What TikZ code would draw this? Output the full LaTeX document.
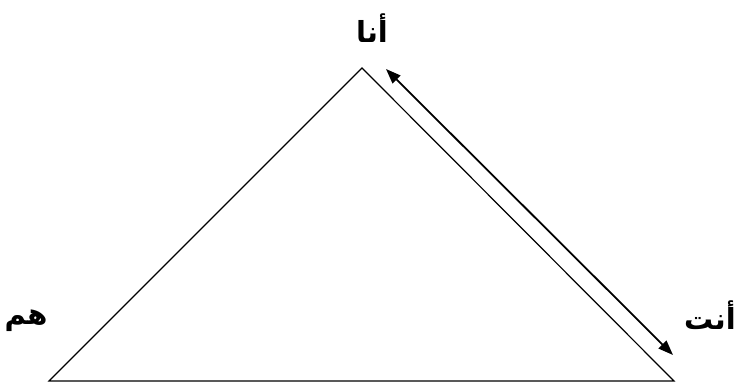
\documentclass[tikz,border=0pt]{standalone}
\usepackage{fontspec}
\usepackage{tikz}
\usetikzlibrary{arrows.meta}
\TeXXeTstate=1
\newfontfamily\arabicfont[Script=Arabic]{DejaVu Sans}

\begin{document}
\begin{tikzpicture}[
   x=1pt, y=-1pt,
   side/.style = {line width=1.2pt, line join=miter},
   arr/.style  = {{Triangle[length=15pt,width=11pt]}-{Triangle[length=15pt,width=11pt]}, line width=1.8pt},
   lbl/.style  = {font=\arabicfont\bfseries\fontsize{29}{34}\selectfont, inner sep=0pt}
]
\useasboundingbox (0,0) rectangle (736,383);
\coordinate (top)   at (362,68);
\coordinate (left)  at (49,381);
\coordinate (right) at (674,381);
\coordinate (atop)  at (386,69);
\coordinate (abot)  at (673,355);

\draw[side] (left) -- (top) -- (right) -- cycle;
\draw[arr] (atop) -- (abot);

\node[lbl] (me)   at (372,28)  {\beginR أنا\endR};
\node[lbl] (you)  at (710,315) {\beginR أنت\endR};
\node[lbl] (them) at (26,321)  {\beginR هم\endR};
\end{tikzpicture}
\end{document}
